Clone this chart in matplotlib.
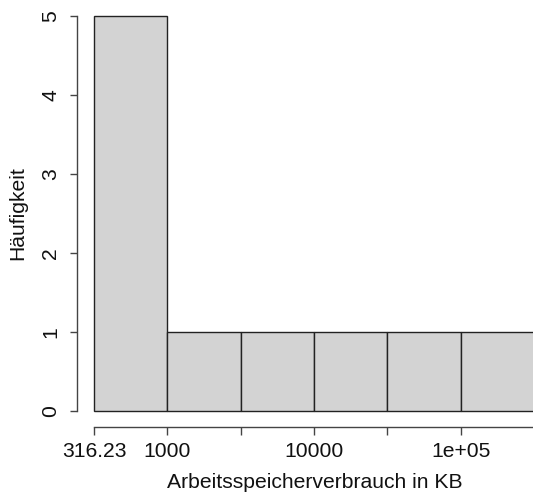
import numpy as np
import matplotlib.pyplot as plt

# Histogramm Arbeitsspeicherverbrauch (log10-Klassen)
edges = [2.5, 3.0, 3.5, 4.0, 4.5, 5.0, 5.5]
counts = [5, 1, 1, 1, 1, 1]
xticks = [2.5, 3.0, 3.5, 4.0, 4.5, 5.0, 5.5]
xlabels = ['316.23', '1000', '', '10000', '', '1e+05', '']
yticks = [0, 1, 2, 3, 4, 5]

plt.rcParams['font.family'] = ['Liberation Sans', 'DejaVu Sans']
fs = 15.2

W, H = 533, 496
fig = plt.figure(figsize=(W / 100, H / 100), dpi=100)
# axes in pixels: x 94..534, y 16..411
ax = fig.add_axes([94 / W, 1 - 411 / H, 440 / W, 395 / H])

widths = np.diff(edges)
ax.bar(edges[:-1], counts, width=widths, align='edge',
       color='#d3d3d3', edgecolor='#222222', linewidth=1.0, clip_on=False)

ax.set_xlim(2.5, 5.5)
ax.set_ylim(0, 5)

for s in ['top', 'right']:
    ax.spines[s].set_visible(False)
ax.spines['left'].set_position(('outward', 17 * 0.72))
ax.spines['bottom'].set_position(('outward', 16 * 0.72))
ax.spines['left'].set_bounds(0, 5)
ax.spines['bottom'].set_bounds(2.5, 5.5)
for s in ['left', 'bottom']:
    ax.spines[s].set_color('#444444')
    ax.spines[s].set_linewidth(1.0)

ax.set_xticks(xticks)
ax.set_xticklabels(xlabels)
ax.set_yticks(yticks)
ax.set_yticklabels([str(v) for v in yticks], rotation=90, va='center')
ax.tick_params(axis='both', length=5.4, width=1.0, color='#444444',
               labelsize=fs, labelcolor='#111111')
ax.tick_params(axis='x', pad=5.5)
ax.tick_params(axis='y', pad=6.5)

fig.text(315 / W, 1 - 483 / H, 'Arbeitsspeicherverbrauch in KB',
         ha='center', va='center', fontsize=fs, color='#111111')
fig.text(18 / W, 1 - 213 / H, 'Häufigkeit', rotation=90,
         ha='center', va='center', fontsize=fs, color='#111111')

fig.savefig('out.png', dpi=100)
